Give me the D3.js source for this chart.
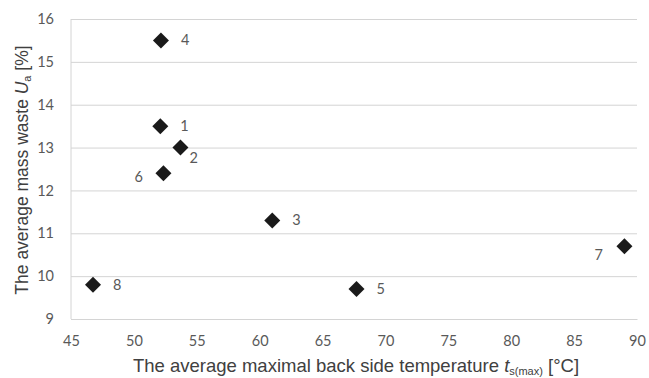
<!DOCTYPE html>
<html>
<head>
<meta charset="utf-8">
<script src="https://cdn.jsdelivr.net/npm/d3@7"></script>
<style>
  body { margin: 0; background: #fff; }
  svg { display: block; }
</style>
</head>
<body>
<div id="chart"></div>
<script>
  var width = 649;
  var height = 378;

  // data
  var samples = ["1", "2", "3", "4", "5", "6", "7", "8"];
  var tempValues = [52.1, 53.7, 61.0, 52.15, 67.7, 52.35, 89.0, 46.75];
  var wasteValues = [13.5, 13.0, 11.3, 15.5, 9.7, 12.4, 10.7, 9.8];
  var xTicks = [45, 50, 55, 60, 65, 70, 75, 80, 85, 90];
  var yTicks = [9, 10, 11, 12, 13, 14, 15, 16];
  // which side the number label sits on
  var labelSide = ["right", "belowRight", "right", "right", "right", "left", "leftBelow", "right"];

  var margin = {top: 19, right: 12, bottom: 59, left: 71};

  var svg = d3.select("#chart")
    .append("svg")
    .attr("width", width)
    .attr("height", height);

  var x = d3.scaleLinear().domain([45, 90]).range([margin.left, width - margin.right]);
  var y = d3.scaleLinear().domain([9, 16]).range([height - margin.bottom, margin.top]);

  // horizontal gridlines
  svg.append("g")
    .attr("class", "grid")
    .attr("transform", "translate(" + margin.left + ",0)")
    .call(d3.axisLeft(y).tickValues(yTicks).tickSize(-(width - margin.right - margin.left)).tickFormat(""))
    .call(function(g) {
      g.select(".domain").remove();
      g.selectAll("line").attr("stroke", "#d4d4d4").attr("stroke-width", 1);
    });

  // left axis line
  svg.append("line")
    .attr("x1", margin.left).attr("x2", margin.left)
    .attr("y1", y(16)).attr("y2", y(9))
    .attr("stroke", "#d4d4d4");

  // y tick labels
  svg.append("g")
    .attr("transform", "translate(" + margin.left + ",0)")
    .call(d3.axisLeft(y).tickValues(yTicks).tickSize(0).tickPadding(17).tickFormat(d3.format("d")))
    .call(function(g) {
      g.select(".domain").remove();
      g.selectAll("text")
        .attr("fill", "#595959")
        .style("font-family", "Lato, 'Open Sans', sans-serif")
        .style("font-size", "14.5px");
    });

  // x tick labels
  svg.append("g")
    .attr("transform", "translate(0," + (height - margin.bottom) + ")")
    .call(d3.axisBottom(x).tickValues(xTicks).tickSize(0).tickPadding(17))
    .call(function(g) {
      g.select(".domain").attr("stroke", "#d4d4d4");
      g.selectAll("text")
        .attr("fill", "#595959")
        .style("font-family", "Lato, 'Open Sans', sans-serif")
        .style("font-size", "14.5px");
    });

  var points = samples.map(function(s, i) {
    return {name: s, t: tempValues[i], u: wasteValues[i], side: labelSide[i]};
  });

  // diamond markers
  var diamond = "M0,-8L8,0L0,8L-8,0Z";
  svg.selectAll(".pt")
    .data(points)
    .enter().append("path")
    .attr("class", "pt")
    .attr("d", diamond)
    .attr("transform", function(d) {
      return "translate(" + x(d.t) + "," + y(d.u) + ")";
    })
    .attr("fill", "#1a1a1a");

  var offsets = {
    right: [20, 5],
    belowRight: [9, 15],
    left: [-29, 9],
    leftBelow: [-30, 14]
  };

  svg.selectAll(".lbl")
    .data(points)
    .enter().append("text")
    .attr("class", "lbl")
    .attr("x", function(d) { return x(d.t) + offsets[d.side][0]; })
    .attr("y", function(d) { return y(d.u) + offsets[d.side][1]; })
    .attr("fill", "#595959")
    .style("font-family", "Lato, 'Open Sans', sans-serif")
    .style("font-size", "14.5px")
    .text(function(d) { return d.name; });

  // axis titles
  var xTitle = svg.append("text")
    .attr("x", 356)
    .attr("y", 372)
    .attr("text-anchor", "middle")
    .attr("fill", "#404040")
    .style("font-family", "'Liberation Sans', Arial, sans-serif")
    .style("font-size", "18.5px");
  xTitle.append("tspan").text("The average maximal back side temperature ");
  xTitle.append("tspan").style("font-style", "italic").text("t");
  xTitle.append("tspan").attr("dy", 3).style("font-size", "11px").text("s(max)");
  xTitle.append("tspan").attr("dy", -3).text(" [\u00B0C]");

  var yTitle = svg.append("text")
    .attr("transform", "translate(28,170) rotate(-90)")
    .attr("text-anchor", "middle")
    .attr("fill", "#404040")
    .style("font-family", "'Liberation Sans', Arial, sans-serif")
    .style("font-size", "17.5px");
  yTitle.append("tspan").text("The average mass waste ");
  yTitle.append("tspan").style("font-style", "italic").text("U");
  yTitle.append("tspan").attr("dy", 3).style("font-size", "11px").text("a");
  yTitle.append("tspan").attr("dy", -3).text(" [%]");
</script>
</body>
</html>
